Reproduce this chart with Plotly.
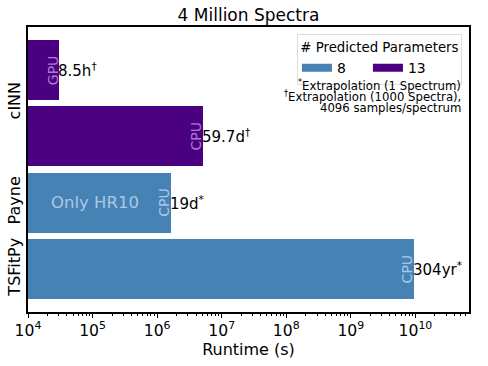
import math
import plotly.graph_objects as go

# ---- data ----
bar_pos = [0, 1, 2, 3]
runtime_s = [30600, 5158080, 1641600, 9.593e9]          # seconds
n_params = ["13", "13", "8", "8"]
device = ["GPU", "CPU", "CPU", "CPU"]
runtime_labels = ["8.5h<sup>†</sup>", "59.7d<sup>†</sup>", "19d<sup>*</sup>", "304yr<sup>*</sup>"]
method_labels = ["cINN", "Payne", "TSFitPy"]
method_pos = [0.5, 2, 3]
param_groups = ["8", "13"]
group_colors = {"8": "#4682B4", "13": "#4B0082"}
inner_text_colors = {"8": "#A9C8E8", "13": "#A77BD6"}
footnotes = ["<sup>*</sup>Extrapolation (1 Spectrum)",
             "<sup>†</sup>Extrapolation (1000 Spectra),",
             "4096 samples/spectrum"]

FONT = "DejaVu Sans"
fig = go.Figure()
for g in param_groups:
    idx = [i for i, p in enumerate(n_params) if p == g]
    fig.add_trace(go.Bar(
        orientation="h",
        y=[bar_pos[i] for i in idx],
        x=[runtime_s[i] for i in idx],
        width=0.9,
        name=g,
        legendgroup=g,
        showlegend=False,
        marker=dict(color=group_colors[g], line=dict(width=0)),
    ))
    # legend entry drawn as a wide patch
    fig.add_trace(go.Scatter(x=[None], y=[None], mode="lines", name=g, legendgroup=g,
                             line=dict(color=group_colors[g], width=8), hoverinfo="skip"))

for i in range(len(bar_pos)):
    lx = math.log10(runtime_s[i])
    fig.add_annotation(x=lx, y=bar_pos[i], text=runtime_labels[i], showarrow=False,
                       xanchor="left", yanchor="middle", xshift=-2, borderpad=0,
                       font=dict(family=FONT, size=15, color="black"))
    fig.add_annotation(x=lx, y=bar_pos[i], text=device[i], showarrow=False,
                       textangle=-90, xanchor="right", yanchor="middle", xshift=2, borderpad=0,
                       font=dict(family=FONT, size=14, color=inner_text_colors[n_params[i]]))

fig.add_annotation(x=5.04, y=2, text="Only HR10", showarrow=False,
                   xanchor="center", yanchor="middle",
                   font=dict(family=FONT, size=16.5, color=inner_text_colors["8"]))

for k, t in enumerate(footnotes):
    fig.add_annotation(xref="paper", yref="paper", x=0.984, y=0.798 - k * 0.041, text=t,
                       showarrow=False, xanchor="right", yanchor="middle", borderpad=0,
                       font=dict(family=FONT, size=11.7, color="black"))

fig.update_layout(
    width=488, height=366,
    margin=dict(l=28, r=19, t=27, b=52),
    paper_bgcolor="white", plot_bgcolor="white",
    font=dict(family=FONT, color="black"),
    title=dict(text="4 Million Spectra", x=0.5, xref="paper", xanchor="center",
               y=0.958, yanchor="middle",
               font=dict(family=FONT, size=17, color="black")),
    showlegend=True,
    legend=dict(orientation="h", x=0.984, xanchor="right", y=0.976, yanchor="top",
                title=dict(text="# Predicted Parameters", side="top center",
                           font=dict(family=FONT, size=13.3)),
                font=dict(family=FONT, size=14),
                bordercolor="#DDDDDD", borderwidth=1, bgcolor="white",
                entrywidth=26, entrywidthmode="pixels"),
    bargap=0,
)
fig.update_xaxes(type="log", range=[4, 10.83], exponentformat="power", dtick=1,
                 showline=True, linecolor="black", linewidth=1.6, mirror=True,
                 ticks="outside", ticklen=4, tickcolor="black", showgrid=False,
                 minor=dict(ticks="outside", ticklen=2, tickcolor="black", showgrid=False),
                 tickfont=dict(family=FONT, size=12.5),
                 title=dict(text="Runtime (s)", font=dict(family=FONT, size=16), standoff=3),
                 automargin=True, zeroline=False)
fig.update_yaxes(range=[3.645, -0.645], tickvals=method_pos, ticktext=method_labels,
                 tickangle=-90, showline=True, linecolor="black", linewidth=1.6, mirror=True,
                 ticks="", showgrid=False, zeroline=False, automargin=False,
                 tickfont=dict(family=FONT, size=16))

fig.write_html("out.html", config={"displayModeBar": False},
               post_script="document.body.style.margin='0';")
